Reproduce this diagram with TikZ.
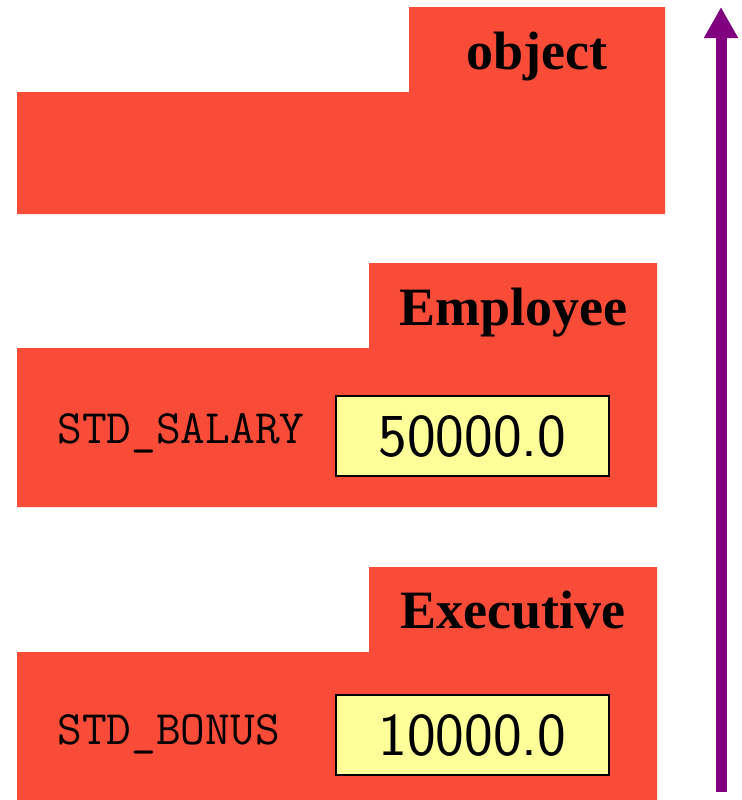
\documentclass[tikz,border=0pt]{standalone}
\usepackage{fontspec}
\newfontfamily\classfont{Liberation Serif}
\usetikzlibrary{arrows.meta}
\definecolor{framered}{RGB}{249,76,56}
\definecolor{slotyellow}{RGB}{255,255,153}
\definecolor{chainpurple}{RGB}{128,0,128}
\begin{document}
\begin{tikzpicture}[x=0.5pt,y=-0.5pt,
  classname/.style={anchor=base, inner sep=0, font=\classfont\bfseries\fontsize{27}{30}\selectfont},
  fieldname/.style={anchor=base west, inner sep=0, font=\ttfamily\fontsize{24}{28}\selectfont},
  slot/.style={draw=black, line width=1pt, fill=slotyellow, minimum width=136.5pt, minimum height=40pt, inner sep=0, font=\sffamily\fontsize{30.5}{34}\selectfont}]
\useasboundingbox (0,0) rectangle (742,800);
% frames, top to bottom
\fill[framered] (17,92)--(409,92)--(409,7)--(665,7)--(665,214)--(17,214)--cycle;
\fill[framered] (17,348)--(369,348)--(369,263)--(657,263)--(657,507)--(17,507)--cycle;
\fill[framered] (17,652)--(369,652)--(369,567)--(657,567)--(657,800)--(17,800)--cycle;
\node[classname] (object) at (537,69) {object};
\node[classname] (employee) at (513,325) {Employee};
\node[classname] (executive) at (512.5,628) {Executive};
\node[fieldname] (salary) at (57,443) {STD\_SALARY};
\node[slot] (salaryval) at (472.5,436) {50000.0};
\node[fieldname] (bonus) at (57,744) {STD\_BONUS};
\node[slot] (bonusval) at (472.5,735) {10000.0};
% lookup direction
\coordinate (chainbottom) at (721,792);
\coordinate (chaintop) at (721,7);
\draw[chainpurple, line width=5.5pt, -{Triangle[width=16pt,length=15.5pt]}] (chainbottom)--(chaintop);
\end{tikzpicture}
\end{document}
